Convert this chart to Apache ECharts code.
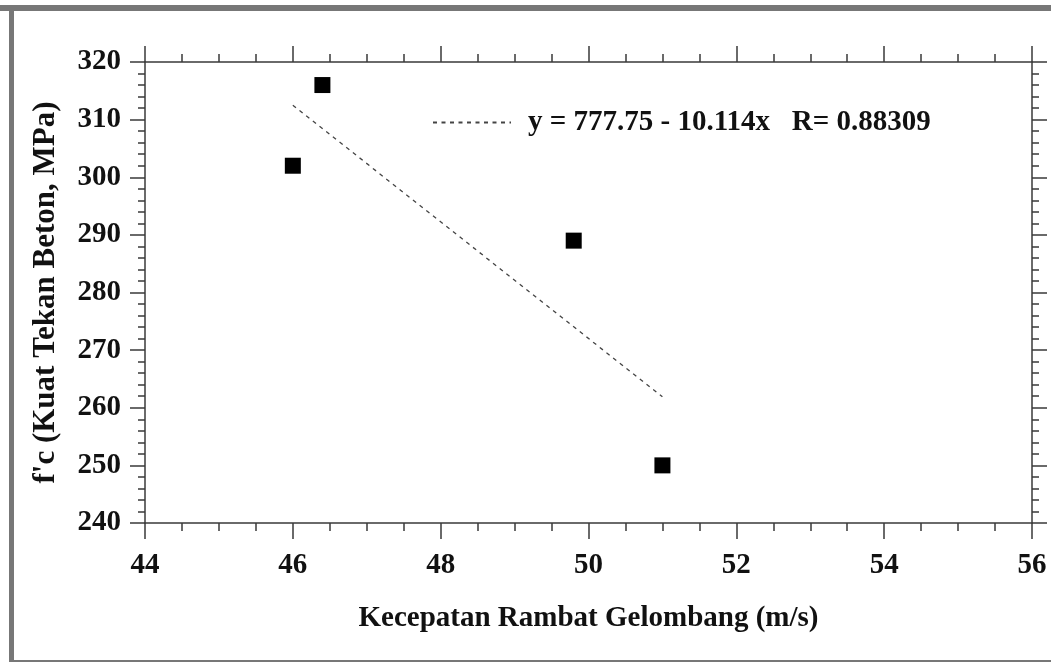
<!DOCTYPE html>
<html>
<head>
<meta charset="utf-8">
<script src="https://cdn.jsdelivr.net/npm/echarts@6/dist/echarts.min.js"></script>
<style>
html,body{margin:0;padding:0;background:#fff;}
#c{width:1051px;height:662px;}
</style>
</head>
<body>
<div id="c"></div>
<script>
// Data
const xLabelTitle = 'Kecepatan Rambat Gelombang (m/s)';
const yLabelTitle = "f'c (Kuat Tekan Beton, MPa)";
const pointsX = [46.0, 46.4, 49.8, 51.0];
const pointsY = [302, 316, 289, 250];
const fitX = [46.0, 51.0];
const fitY = [312.5, 261.9];
const fitName = 'y = 777.75 - 10.114x   R= 0.88309';
const xRange = [44, 56];
const yRange = [240, 320];

const font = 'Liberation Serif';
const axisColor = '#3a3a3a';
const chart = echarts.init(document.getElementById('c'), null, {renderer: 'canvas'});

const baseX = {
  type: 'value', min: xRange[0], max: xRange[1], interval: 2,
  axisLine: {show: true, lineStyle: {color: axisColor, width: 1.5}},
  axisTick: {show: true, inside: false, length: 16, lineStyle: {color: axisColor, width: 1.5}},
  minorTick: {show: true, splitNumber: 4, length: 8, lineStyle: {color: axisColor, width: 1.5}},
  splitLine: {show: false}
};
const baseY = {
  type: 'value', min: yRange[0], max: yRange[1], interval: 10,
  axisLine: {show: true, lineStyle: {color: axisColor, width: 1.5}},
  axisTick: {show: true, inside: false, length: 15, lineStyle: {color: axisColor, width: 1.5}},
  minorTick: {show: true, splitNumber: 5, length: 7, lineStyle: {color: axisColor, width: 1.5}},
  splitLine: {show: false}
};

chart.setOption({
  animation: false,
  backgroundColor: '#fff',
  grid: {left: 145, right: 19, top: 62, bottom: 139},
  legend: {
    data: [fitName],
    left: 427, top: 103,
    itemWidth: 78, itemHeight: 14, itemGap: 14,
    itemStyle: {color: 'rgba(0,0,0,0)', borderWidth: 0},
    textStyle: {fontFamily: font, fontWeight: 'bold', fontSize: 29, color: '#111', padding: [0, 0, 0, 12]}
  },
  xAxis: [
    Object.assign({}, baseX, {
      position: 'bottom',
      name: xLabelTitle, nameLocation: 'middle', nameGap: 81,
      nameTextStyle: {fontFamily: font, fontWeight: 'bold', fontSize: 29, color: '#111'},
      axisLabel: {show: true, margin: 28, fontFamily: font, fontWeight: 'bold', fontSize: 29, color: '#111'}
    }),
    Object.assign({}, baseX, {position: 'top', axisLabel: {show: false}})
  ],
  yAxis: [
    Object.assign({}, baseY, {
      position: 'left',
      name: yLabelTitle, nameLocation: 'middle', nameGap: 84, nameRotate: 90,
      nameTextStyle: {fontFamily: font, fontWeight: 'bold', fontSize: 31, color: '#111'},
      axisLabel: {show: true, margin: 24, fontFamily: font, fontWeight: 'bold', fontSize: 29, color: '#111'}
    }),
    Object.assign({}, baseY, {position: 'right', axisLabel: {show: false}})
  ],
  graphic: [
    {type: 'rect', shape: {x: 0, y: 5, width: 1051, height: 6}, style: {fill: '#777'}, z: 100},
    {type: 'rect', shape: {x: 9, y: 5, width: 5, height: 657}, style: {fill: '#777'}, z: 100},
    {type: 'rect', shape: {x: 9, y: 660, width: 1042, height: 2}, style: {fill: '#777'}, z: 100}
  ],
  series: [
    {
      name: fitName, type: 'line', xAxisIndex: 0, yAxisIndex: 0,
      data: fitX.map((x, i) => [x, fitY[i]]),
      symbol: 'none', showSymbol: false,
      lineStyle: {color: '#444', width: 1.3, type: [4, 4.5]},
      itemStyle: {color: '#444'}
    },
    {
      name: 'data', type: 'scatter', xAxisIndex: 0, yAxisIndex: 0,
      data: pointsX.map((x, i) => [x, pointsY[i]]),
      symbol: 'rect', symbolSize: 16,
      itemStyle: {color: '#000', opacity: 1}
    }
  ]
});
</script>
</body>
</html>
